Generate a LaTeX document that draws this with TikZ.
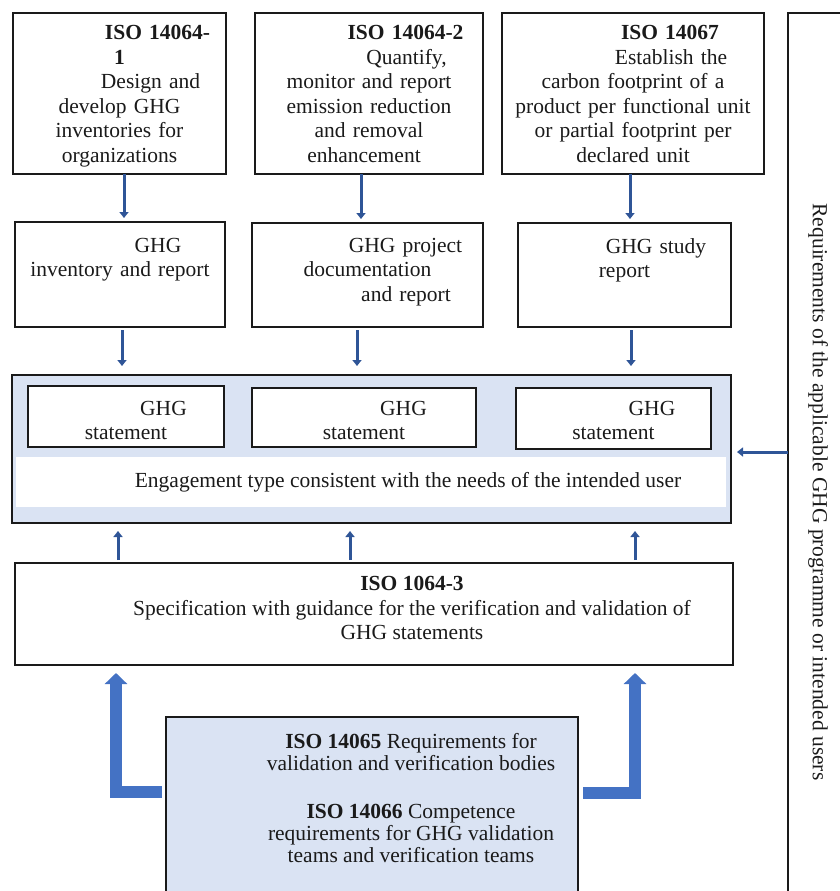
\documentclass[tikz,border=0pt]{standalone}
\usepackage{fontspec}
\setmainfont{Liberation Serif}
\usetikzlibrary{arrows.meta}
\definecolor{ghgPale}{HTML}{DAE3F3}
\definecolor{ghgBlue}{HTML}{4472C4}
\definecolor{ghgNavy}{HTML}{2F5597}
\definecolor{ghgInk}{HTML}{1A1A1A}

\begin{document}
\begin{tikzpicture}[x=1pt, y=-1pt,
  box/.style={draw=ghgInk, line width=1.6pt, rectangle, inner sep=0pt, outer sep=0pt},
  txt/.style={font=\fontsize{21.5}{24.5}\selectfont, align=center, inner sep=0pt, text=ghgInk},
  flow/.style={draw=ghgNavy, line width=3pt, -{Triangle[width=9pt,length=6pt]}},
  bigflow/.style={draw=ghgBlue, line width=12pt, line join=miter, -{Triangle[width=22pt,length=11pt]}}]
  \useasboundingbox (0,0) rectangle (839,891);

  % standards on top
  \node[box, minimum width=213pt, minimum height=161pt] (iso1) at (119.5,93.5) {};
  \node[box, minimum width=228pt, minimum height=161pt] (iso2) at (369,93.5) {};
  \node[box, minimum width=262pt, minimum height=161pt] (iso7) at (633,93.5) {};
  \node[txt, text width=200pt, anchor=north] (iso1txt) at ([yshift=-12.5pt]iso1.north)
    {\hspace*{76pt}\textbf{ISO 14064-}\\ \textbf{1}\\ \hspace*{62pt}Design and\\ develop GHG\\ inventories for\\ organizations};
  \node[txt, text width=215pt, anchor=north] (iso2txt) at ([yshift=-12.5pt]iso2.north)
    {\hspace*{73pt}\textbf{ISO 14064-2}\\ \hspace*{75pt}Quantify,\\ monitor and report\hspace*{11pt}\\ emission reduction\\ and removal\\ enhancement\hspace*{10pt}};
  \node[txt, text width=250pt, anchor=north] (iso7txt) at ([yshift=-12.5pt]iso7.north)
    {\hspace*{74pt}\textbf{ISO 14067}\\ \hspace*{76pt}Establish the\\ carbon footprint of a\\ product per functional unit\\ or partial footprint per\\ declared unit};

  % programme requirements
  \node[box, line width=1.4pt, minimum width=112pt, minimum height=947pt] (req) at (844,486.5) {};
  \node[txt, rotate=-90] (reqtxt) at (818,492) {Requirements of the applicable GHG programme or intended users};

  % outputs
  \node[box, minimum width=210pt, minimum height=105pt] (inv) at (120,274.5) {};
  \node[box, minimum width=231pt, minimum height=104pt] (proj) at (367.5,275) {};
  \node[box, minimum width=213pt, minimum height=104pt] (study) at (624.5,275) {};
  \node[txt, text width=200pt, anchor=north] (invtxt) at ([yshift=-16pt]inv.north)
    {\hspace*{76pt}GHG\\ inventory and report};
  \node[txt, text width=220pt, anchor=north] (projtxt) at ([yshift=-15pt]proj.north)
    {\hspace*{76pt}GHG project\\ documentation\\ \hspace*{77pt}and report};
  \node[txt, text width=205pt, anchor=north] (studytxt) at ([yshift=-15pt]study.north)
    {\hspace*{63pt}GHG study\\ report};

  % statements and engagement
  \node[box, fill=ghgPale, line width=1.4pt, minimum width=719pt, minimum height=148pt] (engage) at (371.5,449) {};
  \node[fill=white, inner sep=0pt, minimum width=710pt, minimum height=50pt] (band) at (371,482) {};
  \node[box, fill=white, minimum width=196pt, minimum height=61pt] (stmt1) at (126,416.5) {};
  \node[box, fill=white, minimum width=224pt, minimum height=59pt] (stmt2) at (364,417.5) {};
  \node[box, fill=white, minimum width=195pt, minimum height=61pt] (stmt3) at (613.5,418.5) {};
  \node[txt, text width=190pt, anchor=north] (stmt1txt) at ([yshift=-15pt]stmt1.north) {\hspace*{75pt}GHG\\ statement};
  \node[txt, text width=215pt, anchor=north] (stmt2txt) at ([yshift=-13pt]stmt2.north) {\hspace*{79pt}GHG\\ statement};
  \node[txt, text width=190pt, anchor=north] (stmt3txt) at ([yshift=-13pt]stmt3.north) {\hspace*{77pt}GHG\\ statement};
  \node[txt] (engtxt) at ([xshift=37pt]band.center) {Engagement type consistent with the needs of the intended user};

  % verification standard
  \node[box, minimum width=718pt, minimum height=102pt] (iso) at (374,614) {};
  \node[txt, anchor=north] (isotxt) at ([xshift=38pt,yshift=-13pt]iso.north)
    {\textbf{ISO 1064-3}\\ Specification with guidance for the verification and validation of\\ GHG statements};

  % bodies and teams
  \node[box, fill=ghgPale, minimum width=412pt, minimum height=243pt] (bodies) at (372,838.5) {};
  \node[txt, font=\fontsize{21.5}{22}\selectfont, anchor=north] (bodiestxt) at ([xshift=39pt,yshift=-16pt]bodies.north)
    {\textbf{ISO 14065} Requirements for\\ validation and verification bodies\\[26pt] \textbf{ISO 14066} Competence\\ requirements for GHG validation\\ teams and verification teams};

  % connectors
  \draw[flow, shorten >=4pt] ([xshift=4.5pt]iso1.south) -- ([xshift=4.5pt]iso1.south |- inv.north);
  \draw[flow, shorten >=4pt] ([xshift=-8pt]iso2.south) -- ([xshift=-8pt]iso2.south |- proj.north);
  \draw[flow, shorten >=4pt] ([xshift=-3pt]iso7.south) -- ([xshift=-3pt]iso7.south |- study.north);
  \draw[flow, shorten <=3pt, shorten >=9pt] ([xshift=2pt]inv.south) -- ([xshift=2pt]inv.south |- engage.north);
  \draw[flow, shorten <=3pt, shorten >=9pt] ([xshift=-10.5pt]proj.south) -- ([xshift=-10.5pt]proj.south |- engage.north);
  \draw[flow, shorten <=3pt, shorten >=9pt] ([xshift=6.5pt]study.south) -- ([xshift=6.5pt]study.south |- engage.north);
  \draw[flow, shorten <=3pt, shorten >=8pt] ([xshift=-256pt]iso.north) -- ([xshift=-256pt]iso.north |- engage.south);
  \draw[flow, shorten <=3pt, shorten >=8pt] ([xshift=-24pt]iso.north) -- ([xshift=-24pt]iso.north |- engage.south);
  \draw[flow, shorten <=3pt, shorten >=8pt] ([xshift=261pt]iso.north) -- ([xshift=261pt]iso.north |- engage.south);
  \draw[flow, shorten >=6pt] ([yshift=-3pt]req.west |- engage.east) -- ([yshift=-3pt]engage.east);
  \draw[bigflow, shorten <=4pt] ([yshift=-75pt]bodies.north west) -| ([xshift=-258pt,yshift=-8pt]iso.south);
  \draw[bigflow, shorten <=5pt] ([yshift=-76pt]bodies.north east) -| ([xshift=261pt,yshift=-8pt]iso.south);
\end{tikzpicture}
\end{document}
